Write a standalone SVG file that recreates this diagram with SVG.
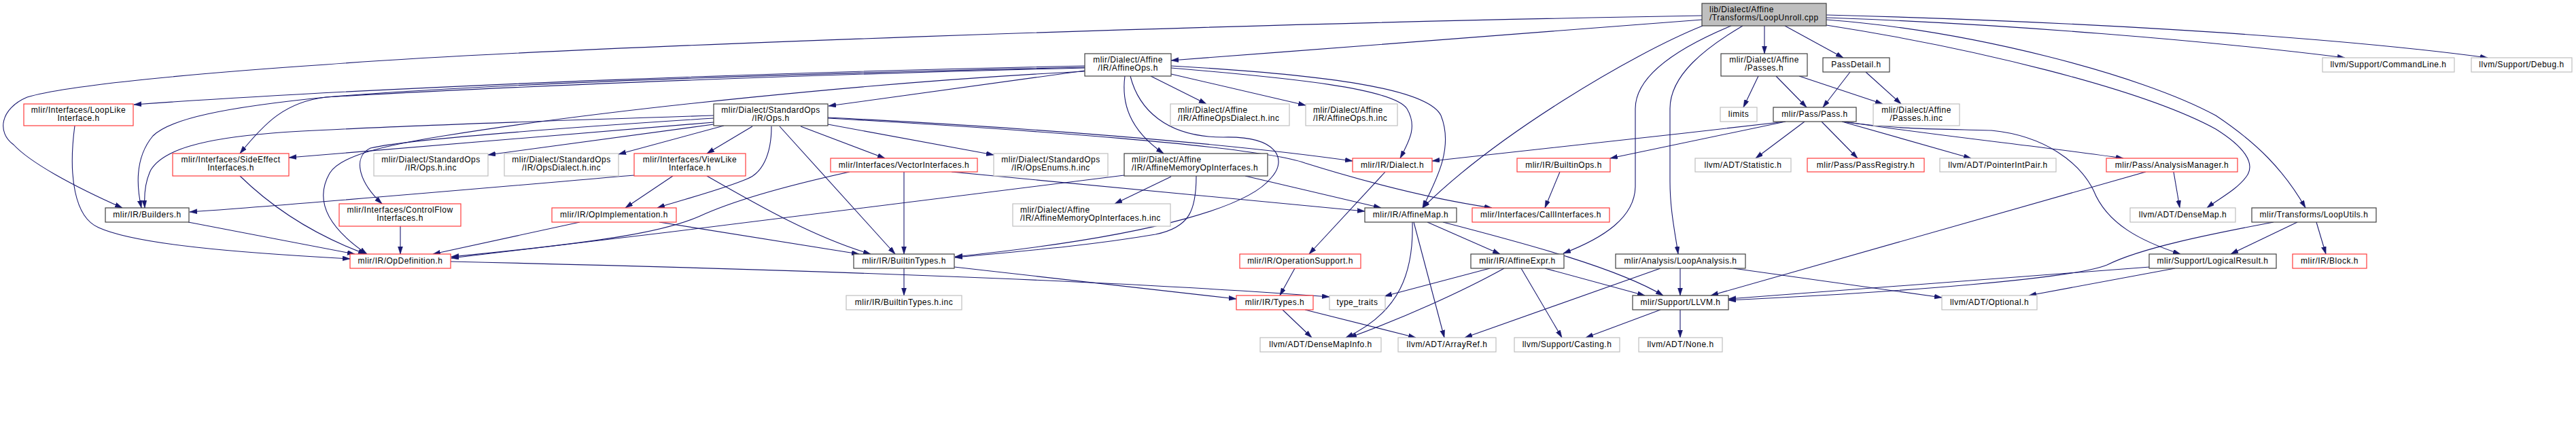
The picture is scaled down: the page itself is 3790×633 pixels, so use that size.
<svg xmlns="http://www.w3.org/2000/svg" width="3790" height="633" viewBox="0 0 3790 633">
<defs>
<style>
rect{fill:#fff;stroke-width:1.2}
.k rect{stroke:#404040}
.r rect{stroke:#ff3b3b}
.g rect{stroke:#bfbfbf}
.root rect{fill:#bfbfbf;stroke:#404040}
text{font-family:"Liberation Sans",Arial,sans-serif;font-size:12px;letter-spacing:0.5px;fill:#000;text-anchor:middle}
text.l{text-anchor:start}
#edges path{fill:none;stroke:#191970;stroke-width:1.1;marker-end:url(#ah)}
</style>
<marker id="ah" markerUnits="userSpaceOnUse" markerWidth="12" markerHeight="8" refX="11" refY="3.5" orient="auto">
<path d="M0,0 L11,3.5 L0,7 z" fill="#191970" stroke="#191970" stroke-width="0.5"/>
</marker>
</defs>
<rect x="0" y="0" width="3790" height="633" fill="#fff" stroke="none"/>
<g id="edges">
<path d="M2504,23 C1800,35 800,70 480,95 C300,107 100,125 40,143 C0,160 -5,195 20,213 C45,240 110,275 180,306"/>
<path d="M2504,29 C2300,45 2000,68 1723,89"/>
<path d="M2505,38 C2400,80 2200,200 2093,306"/>
<path d="M2547,38 C2470,70 2406,110 2406,160 L2406,275 C2405,320 2360,350 2300,373"/>
<path d="M2564,38 C2510,70 2457,110 2457,160 L2457,267 C2457,310 2465,345 2469,374"/>
<path d="M2596,38 L2596,79"/>
<path d="M2626,38 L2712,85"/>
<path d="M2687,22 C3000,30 3400,50 3660,85"/>
<path d="M2687,26 C2950,35 3250,60 3450,85"/>
<path d="M2687,29 C2900,45 3150,110 3260,170 C3320,210 3360,250 3392,306"/>
<path d="M2687,37 C2900,70 3150,130 3260,190 C3300,215 3320,240 3305,260 C3290,280 3265,292 3247,306"/>
<path d="M1596,104 L1219,156"/>
<path d="M1596,97 C1200,105 600,125 197,154"/>
<path d="M1596,99 C1100,110 700,125 480,143 C330,158 250,175 225,200 C200,230 200,270 208,306"/>
<path d="M1596,100 C1100,112 700,130 480,143 C420,150 390,180 353,226"/>
<path d="M1596,105 C1300,120 900,160 653,200 C560,215 500,230 485,255 C465,290 475,330 540,374"/>
<path d="M1655,112 C1650,150 1660,190 1712,226"/>
<path d="M1663,112 C1675,160 1715,202 1800,202 C1880,200 1895,235 1870,262 C1840,300 1720,345 1405,378"/>
<path d="M1693,112 L1775,153"/>
<path d="M1723,109 L1921,155"/>
<path d="M1723,97 C1950,110 2100,130 2120,170 C2140,220 2110,270 2093,306"/>
<path d="M1723,100 C1900,115 2050,130 2070,160 C2085,185 2075,205 2060,233"/>
<path d="M1050,170 C800,178 500,188 400,196 C300,204 240,220 222,250 C212,270 212,290 213,306"/>
<path d="M1050,174 C800,190 600,205 545,218 C520,230 525,265 562,300"/>
<path d="M1050,180 L425,232"/>
<path d="M1050,183 L718,228"/>
<path d="M1065,185 L910,227"/>
<path d="M1107,186 L1040,226"/>
<path d="M1135,186 C1135,230 1120,255 1100,263 C1060,280 1000,295 967,306"/>
<path d="M1147,186 L1317,374"/>
<path d="M1178,186 L1302,233"/>
<path d="M1218,183 L1462,228"/>
<path d="M1218,173 C1500,187 1800,210 1990,237"/>
<path d="M1218,174 C1500,190 1850,215 1920,240 C2000,265 2100,292 2195,306"/>
<path d="M933,258 C700,278 450,300 279,312"/>
<path d="M990,259 L920,306"/>
<path d="M1040,259 C1120,305 1200,350 1281,374"/>
<path d="M1330,253 L1330,374"/>
<path d="M1250,253 C1150,275 1080,295 1030,318 C980,340 900,355 664,378"/>
<path d="M1400,253 L2008,311"/>
<path d="M1723,260 L1640,300"/>
<path d="M1654,258 C1400,292 1000,340 664,380"/>
<path d="M1760,259 C1760,310 1750,335 1700,345 C1600,362 1500,370 1405,379"/>
<path d="M1832,259 L2032,306"/>
<path d="M2038,253 L1926,374"/>
<path d="M2295,253 L2273,306"/>
<path d="M2627,179 C2450,200 2250,220 2107,237"/>
<path d="M2627,179 L2369,233"/>
<path d="M2655,179 L2583,233"/>
<path d="M2680,179 L2733,233"/>
<path d="M2710,179 L2900,233"/>
<path d="M2713,179 C2850,200 3000,215 3124,233"/>
<path d="M2710,179 C2800,192 2880,190 2930,192 C3010,200 3060,240 3080,280 C3100,330 3150,355 3208,374"/>
<path d="M2587,112 L2565,158"/>
<path d="M2613,112 L2658,158"/>
<path d="M2647,112 L2770,153"/>
<path d="M2722,106 L2682,158"/>
<path d="M2745,106 L2797,153"/>
<path d="M3198,253 L3207,306"/>
<path d="M3157,253 L2517,435"/>
<path d="M3408,327 L3422,374"/>
<path d="M3380,327 L3282,374"/>
<path d="M3345,327 C3250,345 3150,365 3100,390 C3050,410 2800,430 2543,442"/>
<path d="M3200,395 L2985,435"/>
<path d="M3163,393 L2543,440"/>
<path d="M2472,395 L2472,435"/>
<path d="M2443,395 L2155,497"/>
<path d="M2550,395 L2857,438"/>
<path d="M2472,456 L2472,497"/>
<path d="M2443,456 L2333,497"/>
<path d="M2100,327 L2207,374"/>
<path d="M2123,327 C2250,360 2380,395 2447,435"/>
<path d="M2078,327 C2080,400 2060,460 1980,497"/>
<path d="M2080,327 L2125,497"/>
<path d="M2192,395 L2037,436"/>
<path d="M2213,395 C2150,430 2060,470 1985,497"/>
<path d="M2238,395 L2298,497"/>
<path d="M2273,395 L2420,435"/>
<path d="M1887,456 L1930,497"/>
<path d="M1920,456 L2083,497"/>
<path d="M1905,395 L1883,435"/>
<path d="M663,385 C1100,395 1600,410 1956,437"/>
<path d="M1330,395 L1330,435"/>
<path d="M1404,393 L1819,440"/>
<path d="M853,327 L637,374"/>
<path d="M970,327 L1264,374"/>
<path d="M589,333 L589,374"/>
<path d="M353,259 C400,305 460,345 538,374"/>
<path d="M277,327 L522,374"/>
<path d="M110,185 C100,260 110,320 145,335 C200,360 350,372 515,381"/>
</g>
<g id="n_root" class="root"><rect x="2504" y="5" width="183" height="33"/><text class="l" x="2515" y="18">lib/Dialect/Affine</text><text class="l" x="2515" y="30">/Transforms/LoopUnroll.cpp</text></g>
<g id="n_affineops" class="k"><rect x="1596" y="79" width="127" height="33"/><text x="1659.5" y="92">mlir/Dialect/Affine</text><text x="1659.5" y="104">/IR/AffineOps.h</text></g>
<g id="n_affpasses" class="k"><rect x="2532" y="79" width="127" height="33"/><text x="2595.5" y="92">mlir/Dialect/Affine</text><text x="2595.5" y="104">/Passes.h</text></g>
<g id="n_passdetail" class="k"><rect x="2682" y="85" width="98" height="21"/><text x="2731" y="99">PassDetail.h</text></g>
<g id="n_cmdline" class="g"><rect x="3417" y="85" width="194" height="21"/><text x="3514" y="99">llvm/Support/CommandLine.h</text></g>
<g id="n_debug" class="g"><rect x="3636" y="85" width="148" height="21"/><text x="3710" y="99">llvm/Support/Debug.h</text></g>
<g id="n_looplike" class="r"><rect x="35" y="153" width="161" height="32"/><text x="115.5" y="166">mlir/Interfaces/LoopLike</text><text x="115.5" y="178">Interface.h</text></g>
<g id="n_stdops" class="k"><rect x="1050" y="153" width="168" height="32"/><text x="1134" y="166">mlir/Dialect/StandardOps</text><text x="1134" y="178">/IR/Ops.h</text></g>
<g id="n_affopsdialectinc" class="g"><rect x="1722" y="153" width="175" height="32"/><text class="l" x="1733" y="166">mlir/Dialect/Affine</text><text class="l" x="1733" y="178">/IR/AffineOpsDialect.h.inc</text></g>
<g id="n_affopsinc" class="g"><rect x="1921" y="153" width="135" height="32"/><text class="l" x="1932" y="166">mlir/Dialect/Affine</text><text class="l" x="1932" y="178">/IR/AffineOps.h.inc</text></g>
<g id="n_limits" class="g"><rect x="2531" y="158" width="54" height="21"/><text x="2558" y="172">limits</text></g>
<g id="n_pass" class="k"><rect x="2609" y="158" width="122" height="21"/><text x="2670" y="172">mlir/Pass/Pass.h</text></g>
<g id="n_passesinc" class="g"><rect x="2756" y="153" width="127" height="32"/><text x="2819.5" y="166">mlir/Dialect/Affine</text><text x="2819.5" y="178">/Passes.h.inc</text></g>
<g id="n_sideeffect" class="r"><rect x="254" y="226" width="171" height="33"/><text x="339.5" y="239">mlir/Interfaces/SideEffect</text><text x="339.5" y="251">Interfaces.h</text></g>
<g id="n_opsinc" class="g"><rect x="550" y="226" width="168" height="33"/><text x="634" y="239">mlir/Dialect/StandardOps</text><text x="634" y="251">/IR/Ops.h.inc</text></g>
<g id="n_opsdialectinc" class="g"><rect x="742" y="226" width="168" height="33"/><text x="826" y="239">mlir/Dialect/StandardOps</text><text x="826" y="251">/IR/OpsDialect.h.inc</text></g>
<g id="n_viewlike" class="r"><rect x="933" y="226" width="164" height="33"/><text x="1015" y="239">mlir/Interfaces/ViewLike</text><text x="1015" y="251">Interface.h</text></g>
<g id="n_vector" class="r"><rect x="1222" y="233" width="216" height="20"/><text x="1330" y="247">mlir/Interfaces/VectorInterfaces.h</text></g>
<g id="n_opsenums" class="g"><rect x="1462" y="226" width="168" height="33"/><text x="1546" y="239">mlir/Dialect/StandardOps</text><text x="1546" y="251">/IR/OpsEnums.h.inc</text></g>
<g id="n_affmemop" class="k"><rect x="1654" y="226" width="211" height="33"/><text class="l" x="1665" y="239">mlir/Dialect/Affine</text><text class="l" x="1665" y="251">/IR/AffineMemoryOpInterfaces.h</text></g>
<g id="n_dialect" class="r"><rect x="1990" y="233" width="117" height="20"/><text x="2048.5" y="247">mlir/IR/Dialect.h</text></g>
<g id="n_builtinops" class="r"><rect x="2232" y="233" width="137" height="20"/><text x="2300.5" y="247">mlir/IR/BuiltinOps.h</text></g>
<g id="n_statistic" class="g"><rect x="2494" y="233" width="141" height="20"/><text x="2564.5" y="247">llvm/ADT/Statistic.h</text></g>
<g id="n_passregistry" class="r"><rect x="2659" y="233" width="172" height="20"/><text x="2745" y="247">mlir/Pass/PassRegistry.h</text></g>
<g id="n_pointerint" class="g"><rect x="2854" y="233" width="171" height="20"/><text x="2939.5" y="247">llvm/ADT/PointerIntPair.h</text></g>
<g id="n_analysismgr" class="r"><rect x="3099" y="233" width="193" height="20"/><text x="3195.5" y="247">mlir/Pass/AnalysisManager.h</text></g>
<g id="n_builders" class="k"><rect x="155" y="306" width="123" height="21"/><text x="216.5" y="320">mlir/IR/Builders.h</text></g>
<g id="n_controlflow" class="r"><rect x="499" y="300" width="179" height="33"/><text x="588.5" y="313">mlir/Interfaces/ControlFlow</text><text x="588.5" y="325">Interfaces.h</text></g>
<g id="n_opimpl" class="r"><rect x="812" y="306" width="183" height="21"/><text x="903.5" y="320">mlir/IR/OpImplementation.h</text></g>
<g id="n_affmemopinc" class="g"><rect x="1490" y="300" width="232" height="33"/><text class="l" x="1501" y="313">mlir/Dialect/Affine</text><text class="l" x="1501" y="325">/IR/AffineMemoryOpInterfaces.h.inc</text></g>
<g id="n_affinemap" class="k"><rect x="2008" y="306" width="135" height="21"/><text x="2075.5" y="320">mlir/IR/AffineMap.h</text></g>
<g id="n_callinterfaces" class="r"><rect x="2166" y="306" width="202" height="21"/><text x="2267" y="320">mlir/Interfaces/CallInterfaces.h</text></g>
<g id="n_densemap" class="g"><rect x="3134" y="306" width="155" height="21"/><text x="3211.5" y="320">llvm/ADT/DenseMap.h</text></g>
<g id="n_looputils" class="k"><rect x="3313" y="306" width="183" height="21"/><text x="3404.5" y="320">mlir/Transforms/LoopUtils.h</text></g>
<g id="n_opdef" class="r"><rect x="515" y="374" width="148" height="21"/><text x="589" y="388">mlir/IR/OpDefinition.h</text></g>
<g id="n_builtintypes" class="k"><rect x="1256" y="374" width="148" height="21"/><text x="1330" y="388">mlir/IR/BuiltinTypes.h</text></g>
<g id="n_opsupport" class="r"><rect x="1824" y="374" width="178" height="21"/><text x="1913" y="388">mlir/IR/OperationSupport.h</text></g>
<g id="n_affineexpr" class="k"><rect x="2164" y="374" width="137" height="21"/><text x="2232.5" y="388">mlir/IR/AffineExpr.h</text></g>
<g id="n_loopanalysis" class="k"><rect x="2377" y="374" width="191" height="21"/><text x="2472.5" y="388">mlir/Analysis/LoopAnalysis.h</text></g>
<g id="n_logicalresult" class="k"><rect x="3162" y="374" width="187" height="21"/><text x="3255.5" y="388">mlir/Support/LogicalResult.h</text></g>
<g id="n_block" class="r"><rect x="3373" y="374" width="109" height="21"/><text x="3427.5" y="388">mlir/IR/Block.h</text></g>
<g id="n_builtintypesinc" class="g"><rect x="1245" y="435" width="170" height="21"/><text x="1330" y="449">mlir/IR/BuiltinTypes.h.inc</text></g>
<g id="n_types" class="r"><rect x="1819" y="435" width="113" height="21"/><text x="1875.5" y="449">mlir/IR/Types.h</text></g>
<g id="n_typetraits" class="g"><rect x="1956" y="435" width="82" height="21"/><text x="1997" y="449">type_traits</text></g>
<g id="n_llvmh" class="k"><rect x="2402" y="435" width="141" height="21"/><text x="2472.5" y="449">mlir/Support/LLVM.h</text></g>
<g id="n_optional" class="g"><rect x="2857" y="435" width="140" height="21"/><text x="2927" y="449">llvm/ADT/Optional.h</text></g>
<g id="n_densemapinfo" class="g"><rect x="1854" y="497" width="178" height="21"/><text x="1943" y="511">llvm/ADT/DenseMapInfo.h</text></g>
<g id="n_arrayref" class="g"><rect x="2057" y="497" width="144" height="21"/><text x="2129" y="511">llvm/ADT/ArrayRef.h</text></g>
<g id="n_casting" class="g"><rect x="2228" y="497" width="155" height="21"/><text x="2305.5" y="511">llvm/Support/Casting.h</text></g>
<g id="n_none" class="g"><rect x="2411" y="497" width="123" height="21"/><text x="2472.5" y="511">llvm/ADT/None.h</text></g>
</svg>
